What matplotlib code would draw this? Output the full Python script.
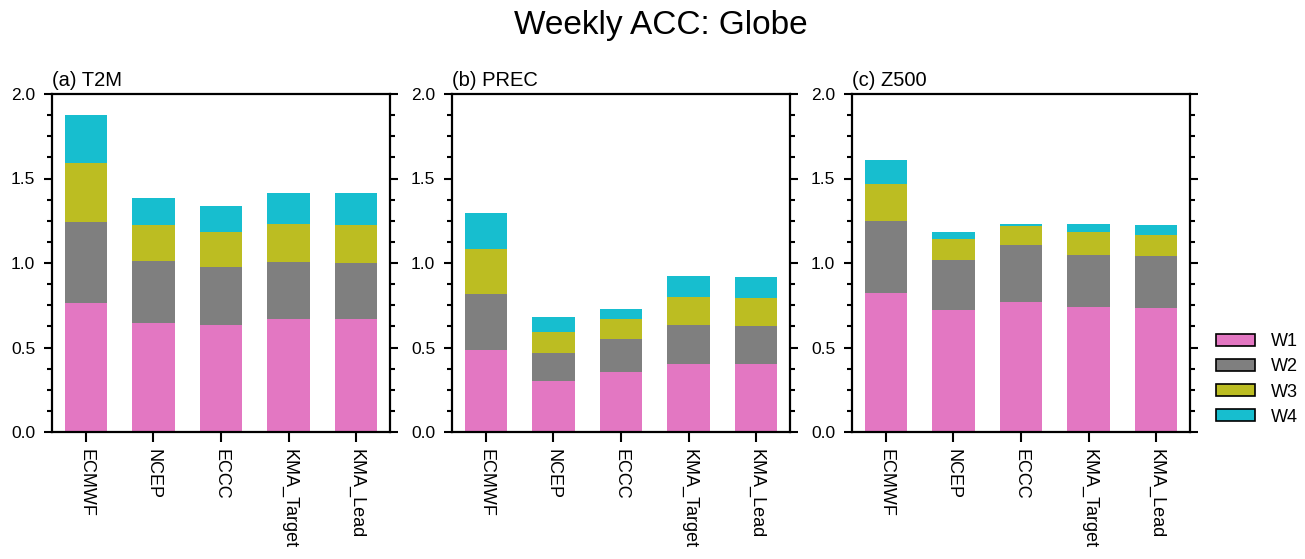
import numpy as np
import matplotlib
matplotlib.use('Agg')
import matplotlib.pyplot as plt
from matplotlib.ticker import MultipleLocator
from matplotlib.patches import Patch

plt.rcParams['font.family'] = ['Liberation Sans', 'DejaVu Sans']

models = ['ECMWF', 'NCEP', 'ECCC', 'KMA_Target', 'KMA_Lead']
weeks = ['W1', 'W2', 'W3', 'W4']
colors = ['#e377c2', '#7f7f7f', '#bcbd22', '#17becf']

# ACC per week (stacked), one row per model
t2m_w1 = [0.764, 0.646, 0.632, 0.669, 0.669]
t2m_w2 = [0.476, 0.365, 0.343, 0.334, 0.330]
t2m_w3 = [0.351, 0.211, 0.208, 0.229, 0.227]
t2m_w4 = [0.285, 0.160, 0.154, 0.184, 0.186]

prec_w1 = [0.488, 0.300, 0.353, 0.403, 0.403]
prec_w2 = [0.331, 0.168, 0.198, 0.229, 0.225]
prec_w3 = [0.261, 0.124, 0.118, 0.164, 0.164]
prec_w4 = [0.213, 0.089, 0.061, 0.128, 0.128]

z500_w1 = [0.822, 0.723, 0.767, 0.737, 0.735]
z500_w2 = [0.425, 0.297, 0.338, 0.308, 0.305]
z500_w3 = [0.219, 0.122, 0.112, 0.137, 0.126]
z500_w4 = [0.143, 0.044, 0.012, 0.051, 0.059]

panels = [
    ('(a) T2M', [t2m_w1, t2m_w2, t2m_w3, t2m_w4]),
    ('(b) PREC', [prec_w1, prec_w2, prec_w3, prec_w4]),
    ('(c) Z500', [z500_w1, z500_w2, z500_w3, z500_w4]),
]

fig = plt.figure(figsize=(13.05, 5.59), dpi=100)
fig.text(0.506, 0.955, 'Weekly ACC: Globe', ha='center', va='center', fontsize=24)

lefts = [52, 452, 852]
x = np.arange(1, len(models) + 1)
for left, (title, series) in zip(lefts, panels):
    ax = fig.add_axes([left / 1305, 127 / 559, 338 / 1305, 338 / 559])
    bottom = np.zeros(len(models))
    for vals, c in zip(series, colors):
        ax.bar(x, vals, width=0.63, bottom=bottom, color=c, edgecolor='none')
        bottom += np.array(vals)
    ax.set_xlim(0.5, 5.5)
    ax.set_ylim(0, 2.0)
    ax.yaxis.set_major_locator(MultipleLocator(0.5))
    ax.yaxis.set_minor_locator(MultipleLocator(0.125))
    ax.yaxis.set_major_formatter(matplotlib.ticker.FormatStrFormatter('%.1f'))
    ax.set_xticks(x)
    ax.set_xticklabels(models, rotation=270, fontsize=13)
    ax.tick_params(axis='y', which='both', direction='out', left=True, right=True,
                   labelsize=12.5, width=1.5, pad=6)
    ax.tick_params(axis='y', which='major', length=6)
    ax.tick_params(axis='y', which='minor', length=3.5)
    ax.tick_params(axis='x', direction='out', length=7, width=1.5, pad=5)
    for s in ax.spines.values():
        s.set_linewidth(1.6)
    ax.set_title(title, loc='left', fontsize=14.5, pad=6)

handles = [Patch(facecolor=c, edgecolor='black', linewidth=1.2) for c in colors]
fig.legend(handles, weeks, loc='center left', bbox_to_anchor=(1216 / 1305, 0.321),
           frameon=False, fontsize=13, handlelength=2.15, handleheight=0.66,
           labelspacing=0.45, handletextpad=0.9, borderpad=0, borderaxespad=0)

fig.savefig('out.png', dpi=100)
